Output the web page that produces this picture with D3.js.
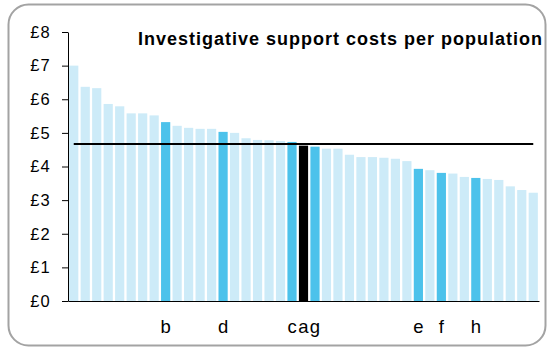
<!DOCTYPE html>
<html>
<head>
<meta charset="utf-8">
<script src="https://cdn.jsdelivr.net/npm/d3@7"></script>
<style>
  html, body { margin: 0; padding: 0; background: #fff; }
  svg { display: block; }
  text { font-family: "Liberation Sans", Arial, sans-serif; }
</style>
</head>
<body>
<svg id="chart" width="547" height="348"></svg>
<script>
// ---- data ----
const title = "Investigative support costs per population";
const labels = ["", "", "", "", "", "", "", "", "b", "", "", "", "", "d", "", "", "", "", "", "c", "a", "g", "", "", "", "", "", "", "", "", "e", "", "f", "", "", "h", "", "", "", "", ""];
const values = [7.00, 6.37, 6.33, 5.86, 5.79, 5.58, 5.58, 5.52, 5.32, 5.21, 5.15, 5.12, 5.12, 5.03, 5.00, 4.84, 4.79, 4.78, 4.76, 4.73, 4.62, 4.59, 4.53, 4.53, 4.35, 4.28, 4.28, 4.26, 4.23, 4.16, 3.93, 3.89, 3.81, 3.79, 3.69, 3.66, 3.63, 3.60, 3.41, 3.30, 3.22];
// kind: 0 = other, 1 = comparator, 2 = selected
const kinds = [0,0,0,0,0,0,0,0,1,0,0,0,0,1,0,0,0,0,0,1,2,1,0,0,0,0,0,0,0,0,1,0,1,0,0,1,0,0,0,0,0];
const meanValue = 4.67;
const yTicks = [0, 1, 2, 3, 4, 5, 6, 7, 8];

// ---- layout ----
const svg = d3.select("#chart");
const plotLeft = 68, plotRight = 539, plotTop = 32, plotBottom = 301;
const colors = ["#cdebf8", "#4cc2eb", "#000000"];

svg.append("rect")
  .attr("x", 8.5).attr("y", 4.5)
  .attr("width", 537).attr("height", 341)
  .attr("rx", 20).attr("ry", 20)
  .attr("fill", "#fff")
  .attr("stroke", "#a3a3a3")
  .attr("stroke-width", 2);

const x = d3.scaleBand()
  .domain(d3.range(values.length))
  .range([plotLeft, plotRight])
  .paddingInner(0.2)
  .paddingOuter(0.1);

const y = d3.scaleLinear().domain([0, 8]).range([plotBottom, plotTop]);

// bars
svg.append("g").selectAll("rect")
  .data(values)
  .join("rect")
  .attr("x", (d, i) => x(i))
  .attr("width", x.bandwidth())
  .attr("y", d => y(d))
  .attr("height", d => y(0) - y(d))
  .attr("fill", (d, i) => colors[kinds[i]]);

// mean line
svg.append("line")
  .attr("x1", x(0) + x.bandwidth() / 2)
  .attr("x2", x(values.length - 1) + x.bandwidth() / 2)
  .attr("y1", y(meanValue)).attr("y2", y(meanValue))
  .attr("stroke", "#000").attr("stroke-width", 2);

// y axis
const yAxis = svg.append("g")
  .attr("transform", `translate(${plotLeft},0)`)
  .call(d3.axisLeft(y).tickValues(yTicks).tickFormat(d => "£" + d).tickSize(6).tickPadding(11).tickSizeOuter(0));
yAxis.selectAll("path, line").attr("stroke", "#000");
yAxis.selectAll("text").attr("font-size", 16.5).attr("fill", "#000")
  .attr("font-family", "'Liberation Sans', Arial, sans-serif")
  .attr("letter-spacing", "1.2px");

// x axis
const xAxis = svg.append("g")
  .attr("transform", `translate(0,${plotBottom})`)
  .call(d3.axisBottom(x).tickFormat(i => labels[i]).tickSize(0).tickPadding(19).tickSizeOuter(0));
xAxis.select(".domain").attr("stroke", "#000");
xAxis.selectAll("text").attr("font-size", 18.5).attr("fill", "#000")
  .attr("font-family", "'Liberation Sans', Arial, sans-serif");

// title
svg.append("text")
  .attr("x", 138).attr("y", 45)
  .attr("font-size", 18)
  .attr("font-weight", "bold")
  .attr("fill", "#000")
  .attr("textLength", 404)
  .attr("lengthAdjust", "spacing")
  .text(title);
</script>
</body>
</html>
